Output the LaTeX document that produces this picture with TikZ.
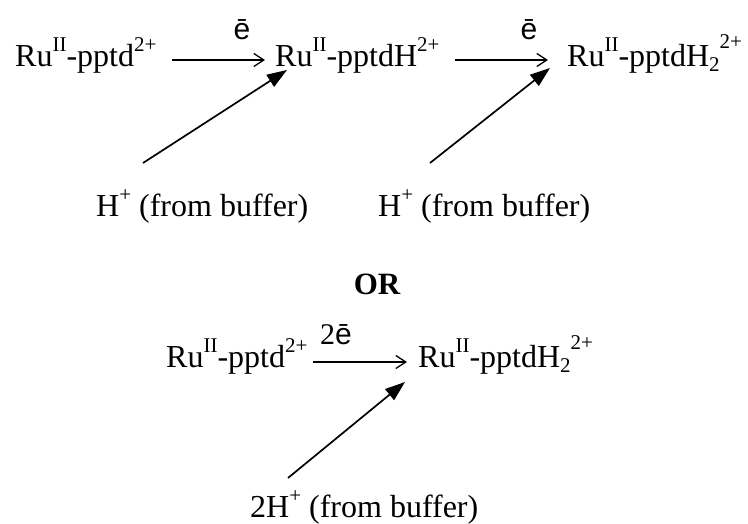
\documentclass[tikz,border=0pt]{standalone}
\usepackage{fontspec}
\setmainfont{Liberation Serif}
\newfontfamily\sansf{Liberation Sans}
\usetikzlibrary{arrows.meta}
\newcommand{\mysup}[1]{\raisebox{15pt}{\fontsize{21}{21}\selectfont #1}}
\newcommand{\mysuph}[1]{\raisebox{18pt}{\fontsize{21}{21}\selectfont #1}}
\newcommand{\mysub}[1]{\raisebox{-5pt}{\fontsize{21}{21}\selectfont #1}}
\begin{document}
\begin{tikzpicture}[x=1pt,y=1pt,
  chem/.style={inner sep=0pt, anchor=base west, font=\fontsize{32}{36}\selectfont},
  elab/.style={inner sep=0pt, anchor=center, font=\fontsize{30}{34}\selectfont},
  orlab/.style={inner sep=0pt, anchor=center, font=\fontsize{31}{34}\selectfont\bfseries},
  harrow/.style={-{Straight Barb[length=10pt,width=13pt]}, line width=1.3pt},
  darrow/.style={-{Triangle[length=20pt,width=14pt]}, line width=1.7pt}]
\useasboundingbox (0,0) rectangle (748,524);
% row 1
\node[chem] (A) at (15,457) {Ru\mysup{II}-pptd\mysup{2+}};
\node[chem] (B) at (275,457) {Ru\mysup{II}-pptdH\mysup{2+}};
\node[chem] (C) at (567,457) {Ru\mysup{II}-pptdH\mysub{2}\mysuph{2+}};
\node[chem] (H1) at (96,307) {H\mysup{+} (from buffer)};
\node[chem] (H2) at (378,307) {H\mysup{+} (from buffer)};
\node[elab] (e1) at (242,494) {\sansf ē};
\node[elab] (e2) at (529,494) {\sansf ē};
\draw[harrow] ([shift={(157pt,7pt)}]A.base west) -- ([shift={(-10pt,7pt)}]B.base west);
\draw[harrow] ([shift={(180pt,7pt)}]B.base west) -- ([shift={(-19pt,7pt)}]C.base west);
\draw[darrow] ([shift={(47pt,54pt)}]H1.base west) -- ([shift={(12pt,-3pt)}]B.base west);
\draw[darrow] ([shift={(52pt,54pt)}]H2.base west) -- ([shift={(-17pt,-1pt)}]C.base west);
% OR
\node[orlab] (or) at (377,240) {OR};
% row 3
\node[chem] (D) at (166,156) {Ru\mysup{II}-pptd\mysup{2+}};
\node[chem] (E) at (418,156) {Ru\mysup{II}-pptdH\mysub{2}\mysuph{2+}};
\node[chem] (H3) at (250,6) {2H\mysup{+} (from buffer)};
\node[elab] (e3) at (336,189) {2{\sansf ē}};
\draw[harrow] ([shift={(147pt,6pt)}]D.base west) -- ([shift={(-11pt,6pt)}]E.base west);
\draw[darrow] ([shift={(38pt,40pt)}]H3.base west) -- ([shift={(-13pt,-14pt)}]E.base west);
\end{tikzpicture}
\end{document}
